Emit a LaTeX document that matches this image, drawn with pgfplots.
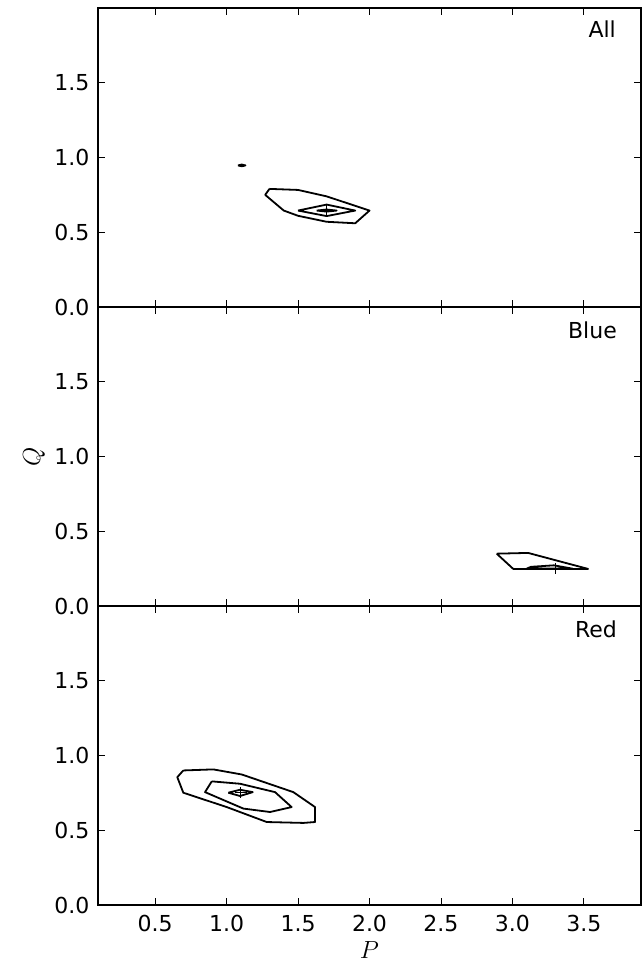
\documentclass[border=0pt]{standalone}
\usepackage{fontspec}
\setmainfont{DejaVu Sans}
\usepackage{pgfplots}
\pgfplotsset{compat=1.18}
\tikzset{
  cont/.style={black, line width=1.8bp, line join=round},
  plusm/.style={only marks, mark=+, mark size=5.7bp, black, mark options={line width=1bp}},
  lab/.style={anchor=north east, inner sep=0pt, font=\fontsize{22bp}{26bp}\selectfont},
}
\begin{document}
\fontsize{22bp}{26bp}\selectfont
\begin{tikzpicture}
\path[use as bounding box] (0bp,0bp) rectangle (642bp,963bp);
\pgfplotsset{
  panel/.style={
    scale only axis, width=543bp, height=299bp,
    xmin=0.1, xmax=3.9, ymin=0, ymax=2.0,
    xtick={0.5,1.0,1.5,2.0,2.5,3.0,3.5},
    ytick={0,0.5,1.0,1.5},
    tick pos=both, tick align=inside,
    major tick length=7bp,
    every tick/.style={black, line width=0.8bp},
    axis line style={line width=1.5bp},
    /pgf/number format/assume math mode=true,
    /pgf/number format/.cd, fixed, fixed zerofill, precision=1, /pgfplots/.cd,
    ticklabel style={font=\fontsize{22bp}{26bp}\selectfont},
    yticklabel style={xshift=-1bp},
    xticklabel style={yshift=-3bp},
    clip=false,
  },
}
% Panel 1: All
\begin{axis}[panel, at={(98bp,656bp)}, anchor=south west, xticklabels={}]
\addplot[cont] coordinates {(1.3,0.79) (1.5,0.783) (1.7,0.74) (2.0,0.645) (1.9,0.56) (1.7,0.57) (1.5,0.61) (1.4,0.645) (1.27,0.75) (1.3,0.79)};
\addplot[cont] coordinates {(1.5,0.645) (1.7,0.685) (1.9,0.645) (1.7,0.608) (1.5,0.645)};
\addplot[cont] coordinates {(1.63,0.645) (1.7,0.652) (1.77,0.645) (1.7,0.638) (1.63,0.645)};
\addplot[cont] coordinates {(1.08,0.947) (1.106,0.953) (1.132,0.947) (1.106,0.941) (1.08,0.947)};
\addplot[plusm] coordinates {(1.7,0.645)};
\node[lab] at (rel axis cs:1,1) [xshift=-25bp, yshift=-13bp] {All};
\end{axis}
% Panel 2: Blue
\begin{axis}[panel, at={(98bp,357bp)}, anchor=south west, xticklabels={},
  ylabel={$Q$}, ylabel style={at={(rel axis cs:0,0.5)}, anchor=center, yshift=64bp, font=\fontsize{23bp}{26bp}\selectfont}]
\addplot[cont] coordinates {(2.89,0.35) (3.11,0.355) (3.53,0.248) (3.006,0.248) (2.89,0.35)};
\addplot[cont] coordinates {(3.1,0.25) (3.13,0.262) (3.29,0.272) (3.42,0.25) (3.1,0.25)};
\addplot[plusm] coordinates {(3.3,0.25)};
\node[lab] at (rel axis cs:1,1) [xshift=-24bp, yshift=-15bp] {Blue};
\end{axis}
% Panel 3: Red
\begin{axis}[panel, at={(98bp,58bp)}, anchor=south west,
  xlabel={$P$}, xlabel style={at={(rel axis cs:0.5,0)}, anchor=center, yshift=-45bp, font=\fontsize{23bp}{26bp}\selectfont}]
\addplot[cont] coordinates {(0.697,0.9) (0.907,0.907) (1.106,0.873) (1.467,0.755) (1.619,0.655) (1.619,0.555) (1.537,0.549) (1.281,0.555) (1.001,0.655) (0.697,0.751) (0.655,0.855) (0.697,0.9)};
\addplot[cont] coordinates {(0.896,0.827) (1.094,0.811) (1.339,0.755) (1.455,0.655) (1.304,0.622) (1.117,0.645) (0.849,0.755) (0.896,0.827)};
\addplot[cont] coordinates {(1.012,0.751) (1.094,0.771) (1.183,0.755) (1.094,0.729) (1.012,0.751)};
\addplot[plusm] coordinates {(1.1,0.752)};
\node[lab] at (rel axis cs:1,1) [xshift=-24bp, yshift=-15bp] {Red};
\end{axis}
\end{tikzpicture}
\end{document}
